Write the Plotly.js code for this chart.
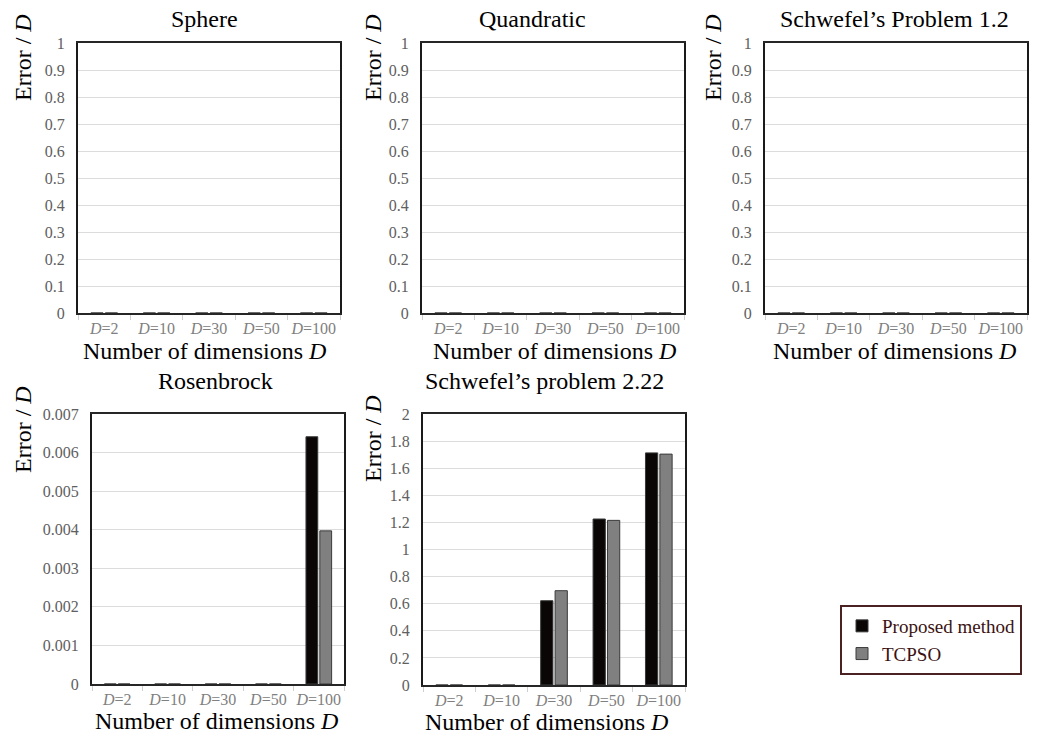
<!DOCTYPE html>
<html>
<head>
<meta charset="utf-8">
<script src="https://cdn.plot.ly/plotly-3.0.1.min.js"></script>
<style>
html,body{margin:0;padding:0;background:#fff;}
#chart{width:1037px;height:736px;}
</style>
</head>
<body>
<div id="chart"></div>
<script>
// ---- Data ----
const categories = ['D=2', 'D=10', 'D=30', 'D=50', 'D=100'];
const tickLabels = ['<i>D</i>=2', '<i>D</i>=10', '<i>D</i>=30', '<i>D</i>=50', '<i>D</i>=100'];
const seriesNames = ['Proposed method', 'TCPSO'];
const panelTitles = ['Sphere', 'Quandratic', 'Schwefel\u2019s Problem 1.2', 'Rosenbrock', 'Schwefel\u2019s problem 2.22'];

const sphereProposed = [0, 0, 0, 0, 0];
const sphereTCPSO = [0, 0, 0, 0, 0];
const quadraticProposed = [0, 0, 0, 0, 0];
const quadraticTCPSO = [0, 0, 0, 0, 0];
const schwefel12Proposed = [0, 0, 0, 0, 0];
const schwefel12TCPSO = [0, 0, 0, 0, 0];
const rosenbrockProposed = [0, 0, 0, 0, 0.00641];
const rosenbrockTCPSO = [0, 0, 0, 0, 0.00397];
const schwefel222Proposed = [0, 0, 0.622, 1.225, 1.713];
const schwefel222TCPSO = [0, 0, 0.696, 1.215, 1.704];

const yRanges = [[0, 1], [0, 1], [0, 1], [0, 0.007], [0, 2]];
const yDticks = [0.1, 0.1, 0.1, 0.001, 0.2];

// ---- Layout helpers ----
const W = 1037, H = 736;
const fx = x => x / W;
const fy = y => 1 - y / H;
const FONT = '"Liberation Serif", "Times New Roman", Times, serif';

// plot boxes in pixels [left, right, top, bottom]
const boxes = [
  [78, 340, 43, 313],
  [422, 684, 43, 313],
  [765, 1027, 43, 313],
  [92, 344, 414, 684],
  [423, 685, 414, 685]
];
const titlePos = [[204, 19], [532, 19], [894, 19], [215, 381], [544, 381]];
const xTitlePos = [[204, 351], [554, 351], [894, 351], [216, 721], [546, 722]];
const yTitlePos = [[23, 58], [373, 58], [713, 58], [23, 430], [373, 439]];

const proposed = [sphereProposed, quadraticProposed, schwefel12Proposed, rosenbrockProposed, schwefel222Proposed];
const tcpso = [sphereTCPSO, quadraticTCPSO, schwefel12TCPSO, rosenbrockTCPSO, schwefel222TCPSO];

const colors = ['#0a0606', '#808080'];
const data = [];
const layout = {
  width: W, height: H,
  margin: {l: 0, r: 0, t: 0, b: 0},
  paper_bgcolor: '#ffffff',
  plot_bgcolor: '#ffffff',
  font: {family: FONT, color: '#000'},
  barmode: 'group',
  bargap: 0.45,
  bargroupgap: 0.15,
  showlegend: true,
  legend: {
    x: fx(840), y: fy(605), xanchor: 'left', yanchor: 'top',
    bgcolor: '#ffffff', bordercolor: '#4a2222', borderwidth: 2,
    font: {family: FONT, size: 19, color: '#3a1212'},
    itemwidth: 30, tracegroupgap: 2
  },
  annotations: []
};

for (let i = 0; i < 5; i++) {
  const s = i === 0 ? '' : String(i + 1);
  const [l, r, t, b] = boxes[i];
  [proposed[i], tcpso[i]].forEach((vals, k) => {
    data.push({
      type: 'bar',
      x: categories,
      y: vals,
      name: seriesNames[k],
      xaxis: 'x' + s,
      yaxis: 'y' + s,
      marker: {color: colors[k], line: {color: '#3a3a3a', width: 1}},
      showlegend: i === 0,
      hoverinfo: 'skip'
    });
  });
  layout['xaxis' + s] = {
    domain: [fx(l), fx(r)],
    anchor: 'y' + s,
    type: 'category',
    tickvals: categories,
    ticktext: tickLabels,
    tickangle: 0,
    tickfont: {family: FONT, size: 16, color: '#808080'},
    showline: true, linecolor: '#262626', linewidth: 2, mirror: true,
    ticks: 'outside', tickson: 'boundaries', ticklen: 5, tickcolor: '#d0d0d0',
    showgrid: false, zeroline: false, fixedrange: true
  };
  layout['yaxis' + s] = {
    domain: [fy(b), fy(t)],
    anchor: 'x' + s,
    range: yRanges[i],
    dtick: yDticks[i],
    tick0: 0,
    tickfont: {family: FONT, size: 16, color: '#606060'},
    showline: true, linecolor: '#1a1a1a', linewidth: 2, mirror: true,
    ticks: '', ticklabelstandoff: 8,
    showgrid: true, gridcolor: '#dcdcdc', gridwidth: 1,
    zeroline: false, fixedrange: true
  };
  layout.annotations.push({
    text: panelTitles[i], xref: 'paper', yref: 'paper',
    x: fx(titlePos[i][0]), y: fy(titlePos[i][1]),
    xanchor: 'center', yanchor: 'middle', showarrow: false,
    font: {family: FONT, size: 24, color: '#000'}
  });
  layout.annotations.push({
    text: 'Number of dimensions <i>D</i>', xref: 'paper', yref: 'paper',
    x: fx(xTitlePos[i][0]), y: fy(xTitlePos[i][1]),
    xanchor: 'center', yanchor: 'middle', showarrow: false,
    font: {family: FONT, size: 24, color: '#000'}
  });
  layout.annotations.push({
    text: 'Error / <i>D</i>', xref: 'paper', yref: 'paper',
    x: fx(yTitlePos[i][0]), y: fy(yTitlePos[i][1]),
    xanchor: 'center', yanchor: 'middle', showarrow: false, textangle: -90,
    font: {family: FONT, size: 24, color: '#000'}
  });
}

Plotly.newPlot('chart', data, layout, {displayModeBar: false, staticPlot: true});
</script>
</body>
</html>
